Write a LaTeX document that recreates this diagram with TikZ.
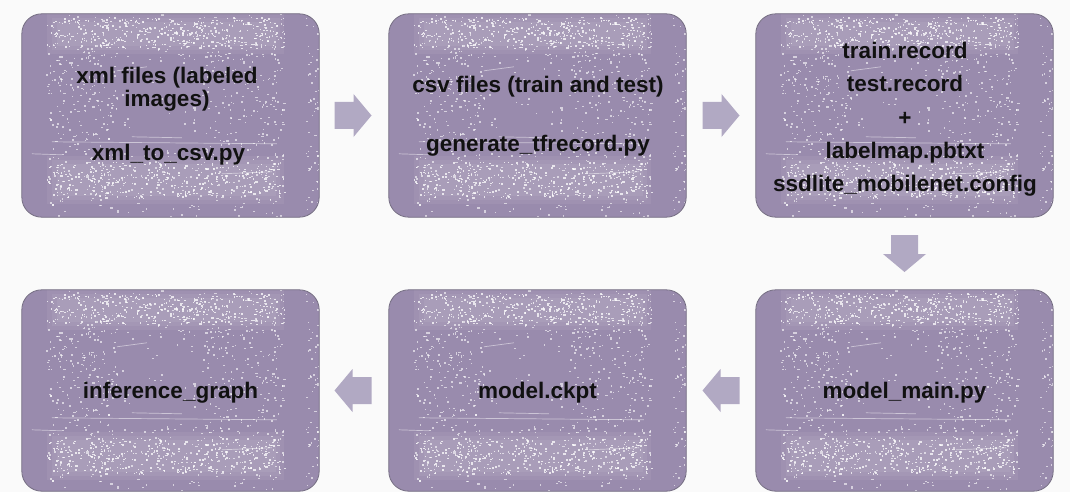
\documentclass[tikz,border=0pt]{standalone}
\usepackage{fontspec}
\setmainfont{Liberation Sans}
\usetikzlibrary{calc}

\definecolor{pagebg}{HTML}{FAFAFA}
\definecolor{tile}{HTML}{998BAD}
\definecolor{tileedge}{HTML}{6E667D}
\definecolor{flow}{HTML}{B1A9C3}
\definecolor{ink}{HTML}{111111}

% scatter #1 white specks over the box (#2,#3)-(#4,#5)
\newcommand\specks[5]{%
  \foreach \k in {1,...,#1}{%
    \fill ({#2+(#4-#2)*rnd},{#3+(#5-#3)*rnd}) rectangle +({0.8+1.6*rnd},{0.8+1.3*rnd});}%
}

% soft light band: three nested faint layers
\newcommand\haze[4]{%
  \fill[white,opacity=.06] (#1,#2) rectangle (#3,#4);
  \fill[white,opacity=.06] ({#1+5},{#2+4}) rectangle ({#3-4},{#4-4});
  \fill[white,opacity=.06] ({#1+10},{#2+8}) rectangle ({#3-8},{#4-8});
}

% grainy finish laid over tile #1, in tile-local units (297 x 203, y downwards)
\newcommand\grainon[1]{%
  \begin{scope}
    \clip[rounded corners=20pt] (#1.north west) rectangle (#1.south east);
    \begin{scope}[shift={(#1.north west)}]
      \pgfmathsetseed{4217}%
      \haze{25}{0}{262}{40}
      \haze{25}{142}{262}{190}
      \begin{scope}[white,opacity=.75]
        \specks{330}{25}{3}{262}{34}
        \specks{330}{25}{148}{262}{184}
      \end{scope}
      \begin{scope}[white,opacity=.6]
        \specks{100}{25}{0}{262}{50}
        \specks{100}{25}{135}{262}{200}
        \specks{170}{25}{25}{95}{175}
        \specks{170}{180}{25}{262}{175}
        \specks{250}{24}{0}{262}{203}
        \specks{60}{284}{0}{297}{203}
      \end{scope}
      \draw[white,opacity=.5,line width=.7pt]
        (30,128) -- (255,130) (95,57) -- (125,53) (110,123) -- (160,124)
        (10,140) -- (40,141) (200,160) -- (250,158);
    \end{scope}
  \end{scope}
  \draw[tileedge, line width=0.8pt, rounded corners=20pt]
    (#1.north west) rectangle (#1.south east);
}

% block arrow centred on #1, turned by #2 degrees
\newcommand\flowarrow[2]{%
  \fill[flow, shift={(#1)}, rotate=#2]
    (-18.5,-13.5) -- (0.5,-13.5) -- (0.5,-21.5) -- (18.5,0)
    -- (0.5,21.5) -- (0.5,13.5) -- (-18.5,13.5) -- cycle;
}

\begin{document}
\begin{tikzpicture}[x=1pt,y=-1pt,
  tilebox/.style={fill=tile, rounded corners=20pt,
    minimum width=297pt, minimum height=203pt, inner sep=0pt},
  lbl/.style={font=\bfseries\fontsize{22.5}{24}\selectfont, text=ink,
    anchor=base, inner sep=0pt}]

\fill[pagebg] (0,0) rectangle (1070,492);
\useasboundingbox (0,0) rectangle (1070,492);

% tiles
\node[tilebox] (b1) at (170.5,115.5) {};
\node[tilebox] (b2) at (537.5,115.5) {};
\node[tilebox] (b3) at (904.5,115.5) {};
\node[tilebox, minimum height=201pt] (b4) at (904.5,390.5) {};
\node[tilebox, minimum height=201pt] (b5) at (537.5,390.5) {};
\node[tilebox, minimum height=201pt] (b6) at (170.5,390.5) {};
\grainon{b1}
\grainon{b2}
\grainon{b3}
\grainon{b4}
\grainon{b5}
\grainon{b6}

% labels
\node[lbl] (t1a) at ($(b1.north)+(-3.5,70)$) {xml files (labeled};
\node[lbl] (t1b) at ($(b1.north)+(-3.5,93)$) {images)};
\node[lbl] (t1c) at ($(b1.north)+(-2,147)$) {xml\_to\_csv.py};

\node[lbl] (t2a) at ($(b2.north)+(0.5,79)$) {csv files (train and test)};
\node[lbl] (t2b) at ($(b2.north)+(0.5,138)$) {generate\_tfrecord.py};

\node[lbl] (t3a) at ($(b3.north)+(0.5,44.5)$) {train.record};
\node[lbl] (t3b) at ($(b3.north)+(0.5,78)$) {test.record};
\node[lbl] (t3c) at ($(b3.north)+(0.5,111.5)$) {+};
\node[lbl] (t3d) at ($(b3.north)+(0.5,144.5)$) {labelmap.pbtxt};
\node[lbl] (t3e) at ($(b3.north)+(0.5,178)$) {ssdlite\_mobilenet.config};

\node[lbl] (t4) at ($(b4.north)+(0,108.5)$) {model\_main.py};
\node[lbl] (t5) at ($(b5.north)+(0,108.5)$) {model.ckpt};
\node[lbl] (t6) at ($(b6.north)+(0,108.5)$) {inference\_graph};

% flow arrows between tiles
\coordinate (a12) at ($(b1.east)!0.5!(b2.west)+(-1,0)$);
\coordinate (a23) at ($(b2.east)!0.5!(b3.west)$);
\coordinate (a34) at ($(b3.south)!0.5!(b4.north)$);
\coordinate (a45) at ($(b4.west)!0.5!(b5.east)$);
\coordinate (a56) at ($(b5.west)!0.5!(b6.east)+(-1,0)$);
\flowarrow{a12}{0}
\flowarrow{a23}{0}
\flowarrow{a34}{-90}
\flowarrow{a45}{180}
\flowarrow{a56}{180}

\end{tikzpicture}
\end{document}
